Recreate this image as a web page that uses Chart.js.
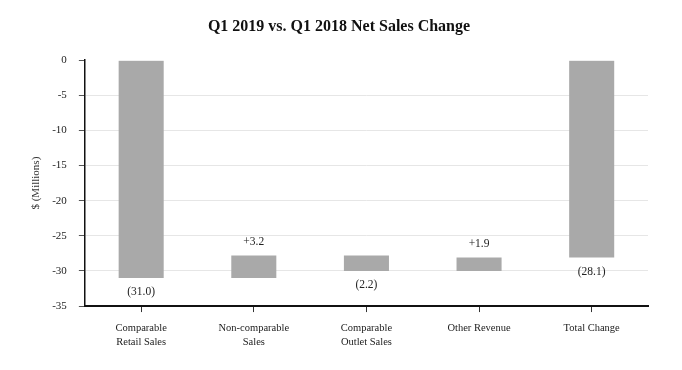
<!DOCTYPE html>
<html>
<head>
  <meta charset="utf-8">
  <title>Q1 2019 vs. Q1 2018 Net Sales Change</title>
  <script src="https://cdn.jsdelivr.net/npm/chart.js"></script>
  <style>
    html, body {
      margin: 0;
      padding: 0;
      background: #ffffff;
    }
    #wrap {
      width: 682px;
      height: 370px;
    }
  </style>
</head>
<body>
  <div id="wrap">
    <canvas id="netSalesChart" width="682" height="370"></canvas>
  </div>

  <script>
    // Waterfall data ($ millions)
    const categories = [
      ['Comparable', 'Retail Sales'],
      ['Non-comparable', 'Sales'],
      ['Comparable', 'Outlet Sales'],
      'Other Revenue',
      'Total Change'
    ];
    const barStart = [0, -31.0, -27.8, -30.0, 0];
    const barEnd = [-31.0, -27.8, -30.0, -28.1, -28.1];
    const barLabels = ['(31.0)', '+3.2', '(2.2)', '+1.9', '(28.1)'];
    const yTicks = [0, -5, -10, -15, -20, -25, -30, -35];

    const serif = "'Liberation Serif', 'Times New Roman', serif";

    // writes the value labels above (increase) or below (decrease) each bar
    const valueLabels = {
      id: 'valueLabels',
      afterDatasetsDraw(chart) {
        const ctx = chart.ctx;
        const meta = chart.getDatasetMeta(0);
        const yScale = chart.scales.y;
        ctx.save();
        ctx.font = '11.5px ' + serif;
        ctx.fillStyle = '#222';
        ctx.textAlign = 'center';
        ctx.textBaseline = 'middle';
        meta.data.forEach((bar, i) => {
          const up = barEnd[i] > barStart[i];
          let y;
          if (up) {
            y = yScale.getPixelForValue(Math.max(barStart[i], barEnd[i])) - 14;
          } else {
            y = yScale.getPixelForValue(Math.min(barStart[i], barEnd[i])) + 14;
          }
          ctx.fillText(barLabels[i], bar.x, y);
        });
        ctx.restore();
      }
    };

    new Chart(document.getElementById('netSalesChart'), {
      type: 'bar',
      data: {
        labels: categories,
        datasets: [{
          data: barStart.map((s, i) => [s, barEnd[i]]),
          backgroundColor: '#a9a9a9',
          borderWidth: 0,
          barPercentage: 0.4,
          categoryPercentage: 1.0
        }]
      },
      options: {
        responsive: false,
        animation: false,
        layout: {
          padding: { left: 30, right: 34, top: 8, bottom: 12 }
        },
        plugins: {
          legend: { display: false },
          tooltip: { enabled: false },
          title: {
            display: true,
            text: 'Q1 2019 vs. Q1 2018 Net Sales Change',
            color: '#111',
            font: { family: serif, size: 16, weight: 'bold' },
            padding: { top: 9, bottom: 24 }
          }
        },
        scales: {
          x: {
            grid: {
              display: true,
              drawOnChartArea: false,
              drawTicks: true,
              offset: false,
              tickLength: 6,
              tickColor: '#333'
            },
            border: { display: true, color: '#111', width: 2 },
            ticks: {
              color: '#222',
              font: { family: serif, size: 10.5, lineHeight: 1.33 },
              padding: 9,
              maxRotation: 0
            }
          },
          y: {
            min: -35,
            max: 0,
            afterBuildTicks(axis) {
              axis.ticks = yTicks.map(v => ({ value: v }));
            },
            grid: {
              color: ctx => (ctx.tick && ctx.tick.value === 0 ? 'rgba(0,0,0,0)' : '#e6e6e6'),
              tickColor: '#555',
              tickLength: 6
            },
            border: { display: true, color: '#111', width: 1.5 },
            ticks: {
              color: '#222',
              font: { family: serif, size: 11 },
              padding: 12
            },
            title: {
              display: true,
              text: '$ (Millions)',
              color: '#333',
              font: { family: serif, size: 11 },
              padding: { top: 0, bottom: -3 }
            }
          }
        }
      },
      plugins: [valueLabels]
    });
  </script>
</body>
</html>
